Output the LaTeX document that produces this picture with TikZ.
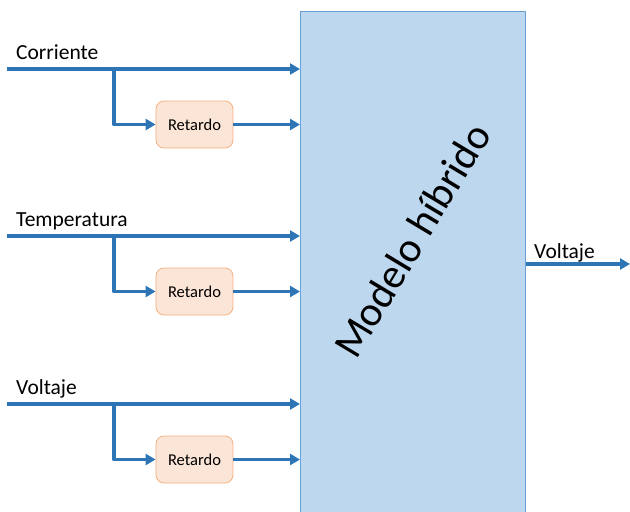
\documentclass[tikz,border=0pt]{standalone}
\usepackage{fontspec}
\setmainfont{Carlito}
\usetikzlibrary{arrows.meta}
\definecolor{azul}{HTML}{2E75B6}
\definecolor{azulborde}{HTML}{6A9FD6}
\definecolor{azulclaro}{HTML}{BDD7EE}
\definecolor{naranja}{HTML}{FBE5D6}
\definecolor{naranjaborde}{HTML}{F4B183}
\begin{document}
\begin{tikzpicture}[x=1pt,y=-1pt,line join=round,
	>={Triangle[length=10pt,width=11pt]},
	flecha/.style={draw=azul,line width=3.5pt,->},
	etiqueta/.style={anchor=base west,inner sep=0pt,font=\fontsize{21.5}{24}\selectfont},
	retardo/.style={draw=naranjaborde,fill=naranja,rounded corners=8pt,line width=0.8pt,
		minimum width=77pt,minimum height=47pt,font=\fontsize{16.5}{18}\selectfont}]
	\clip (0,0) rectangle (630,512);
	% bloque principal
	\node[draw=azulborde,fill=azulclaro,line width=0.8pt,anchor=north west,
		minimum width=225pt,minimum height=520pt] (M) at (300,11) {};
	\node[rotate=59,font=\fontsize{42}{46}\selectfont] (T) at (412,240) {Modelo híbrido};
	% entradas
	\foreach \n/\y/\texto in {c/69/Corriente,t/236/Temperatura,v/404/Voltaje}
	{
		\coordinate (\n0) at (7,\y);
		\coordinate (\n1) at (114,\y);
		\node[etiqueta] (\n l) at (16,{\y-10}) {\texto};
		\node[retardo] (\n r) at (194.5,{\y+55.5}) {Retardo};
		\draw[flecha] (\n0) -- (\n0 -| M.west);
		\draw[flecha] (\n1) |- (\n r.west);
		\draw[flecha] (\n r.east) -- (\n r.east -| M.west);
	}
	% salida
	\coordinate (s) at (630,264);
	\node[etiqueta] (sl) at (534,258) {Voltaje};
	\draw[flecha] (M.east |- s) -- (s);
\end{tikzpicture}
\end{document}
